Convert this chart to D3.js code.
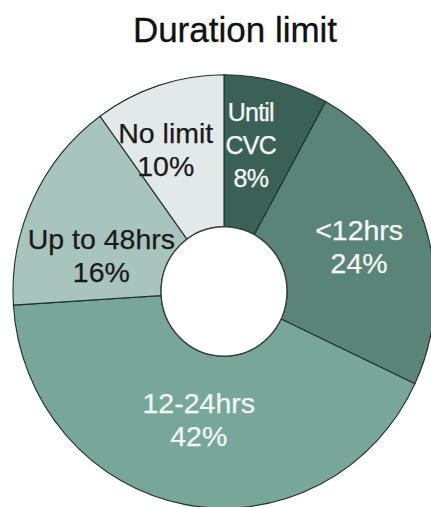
<!DOCTYPE html>
<html>
<head>
<meta charset="utf-8">
<script src="https://cdn.jsdelivr.net/npm/d3@7"></script>
<style>
  html, body { margin: 0; padding: 0; background: #ffffff; }
  svg { display: block; }
</style>
</head>
<body>
<svg id="chart" width="431" height="507"></svg>
<script>
// Duration limit shares (percent), clockwise from 12 o'clock
const categories = ["Until CVC", "<12hrs", "12-24hrs", "Up to 48hrs", "No limit"];
const labelLines = [["Until", "CVC"], ["<12hrs"], ["12-24hrs"], ["Up to 48hrs"], ["No limit"]];
const shares = [8, 24, 42, 16, 10];
const sliceColors = ["#3b6157", "#5a8477", "#78a79a", "#a8c5bd", "#e3e9e9"];
const textColors = ["#f4f8f6", "#f4f8f6", "#f1f7f4", "#1a1a1a", "#1a1a1a"];
const title = "Duration limit";

const svg = d3.select("#chart");
const cx = 224, cy = 291.5;
const outerR = 211, innerR = 63, stretchY = 1.027;
const font = "'Liberation Sans', Arial, Helvetica, sans-serif";

svg.append("text")
  .attr("x", 235).attr("y", 42)
  .attr("text-anchor", "middle")
  .attr("font-family", font)
  .attr("font-size", 35)
  .attr("fill", "#111")
  .attr("stroke", "#111").attr("stroke-width", 0.3)
  .text(title);

const data = categories.map((c, i) => ({ name: c, value: shares[i], i }));
const pie = d3.pie().value(d => d.value).sort(null);
const arcs = pie(data);
const arc = d3.arc().innerRadius(innerR).outerRadius(outerR);

const g = svg.append("g")
  .attr("transform", `translate(${cx},${cy}) scale(1,${stretchY})`);

g.selectAll("path.slice")
  .data(arcs)
  .join("path")
  .attr("class", "slice")
  .attr("d", arc)
  .attr("fill", d => sliceColors[d.data.i])
  .attr("stroke", "#1f332c")
  .attr("stroke-width", 1.1);

// hole outline
g.append("circle")
  .attr("r", innerR)
  .attr("fill", "#ffffff")
  .attr("stroke", "#3a3f3d")
  .attr("stroke-width", 1.4);

// label placement: centroid on a mid ring, with small nudges to fit each slice
const labelArc = d3.arc().innerRadius(140).outerRadius(140);
const nudge = [[-8, -7], [2, -1], [1, -13], [4, 25], [-15, -5]];
const lineH = 33;

arcs.forEach(d => {
  const i = d.data.i;
  const [lx, ly] = labelArc.centroid(d);
  const x = cx + lx + nudge[i][0];
  const y = cy + ly * stretchY + nudge[i][1];
  const narrow = i === 0;
  const fs = narrow ? 25 : 28.5;
  const capH = fs * 0.716;
  const lines = labelLines[i].concat([d.data.value + "%"]);
  const n = lines.length;
  const first = y - (capH + (n - 1) * lineH) / 2 + capH;
  const t = svg.append("text")
    .attr("text-anchor", "middle")
    .attr("font-family", font)
    .attr("font-size", fs)
    .attr("letter-spacing", narrow ? -0.8 : 0)
    .attr("fill", textColors[i])
    .attr("stroke", textColors[i]).attr("stroke-width", 0.25);
  lines.forEach((s, k) => {
    t.append("tspan").attr("x", x).attr("y", first + k * lineH).text(s);
  });
});
</script>
</body>
</html>
